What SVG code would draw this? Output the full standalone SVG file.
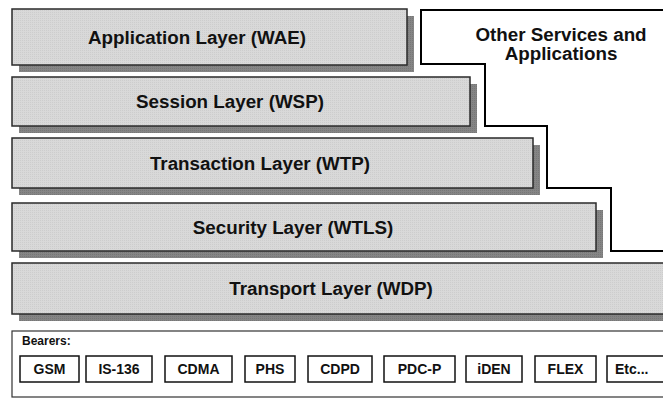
<svg xmlns="http://www.w3.org/2000/svg" width="663" height="399" viewBox="0 0 663 399">
<defs>
<pattern id="dots" width="2" height="2" patternUnits="userSpaceOnUse">
<rect width="2" height="2" fill="#d9d9d9"/>
<rect width="1" height="1" fill="#cdcdcd"/>
</pattern>
<pattern id="sdots" width="2" height="2" patternUnits="userSpaceOnUse">
<rect width="2" height="2" fill="#858585"/>
<rect width="1" height="1" fill="#777"/>
</pattern>
</defs>
<style>
.shadow{fill:url(#sdots);}
.layer{fill:url(#dots);stroke:#2a2a2a;stroke-width:1.5;}
.lt{font-family:"Liberation Sans",Arial,sans-serif;font-weight:bold;font-size:18.8px;fill:#111;text-anchor:middle;}
.bt{font-family:"Liberation Sans",Arial,sans-serif;font-weight:bold;font-size:14px;fill:#111;text-anchor:middle;}
.bbox{fill:#fff;stroke:#111;stroke-width:1.5;}
</style>
<rect width="663" height="399" fill="#fff"/>
<g id="other">
<path d="M663,10 H421 V64 H485 V126 H547 V188 H611 V251 H663" fill="none" stroke="#000" stroke-width="2"/>
<text class="lt" x="561" y="41">Other Services and</text>
<text class="lt" x="561" y="60">Applications</text>
</g>
<g id="app">
<rect class="shadow" x="19" y="16" width="395" height="56"/>
<rect class="layer" x="12" y="9" width="395" height="56"/>
<text class="lt" x="197" y="44">Application Layer (WAE)</text>
</g>
<g id="session">
<rect class="shadow" x="19" y="84" width="458" height="49"/>
<rect class="layer" x="12" y="77" width="458" height="49"/>
<text class="lt" x="230" y="108">Session Layer (WSP)</text>
</g>
<g id="transaction">
<rect class="shadow" x="19" y="145" width="521" height="50"/>
<rect class="layer" x="12" y="138" width="521" height="50"/>
<text class="lt" x="260" y="170">Transaction Layer (WTP)</text>
</g>
<g id="security">
<rect class="shadow" x="19" y="210" width="584" height="48"/>
<rect class="layer" x="12" y="203" width="584" height="48"/>
<text class="lt" x="293" y="234">Security Layer (WTLS)</text>
</g>
<g id="transport">
<rect class="shadow" x="19" y="270" width="660" height="51"/>
<rect class="layer" x="12" y="263" width="670" height="51"/>
<text class="lt" x="331" y="295">Transport Layer (WDP)</text>
</g>
<g id="bearers">
<rect x="12" y="331" width="670" height="66" fill="#fff" stroke="#333" stroke-width="1.2"/>
<text x="22" y="345" font-family="Liberation Sans,Arial,sans-serif" font-weight="bold" font-size="12px" fill="#111">Bearers:</text>
<g id="gsm"><rect class="bbox" x="20" y="356" width="59" height="26"/><text class="bt" x="49.5" y="374">GSM</text></g>
<g id="is136"><rect class="bbox" x="86" y="356" width="66" height="26"/><text class="bt" x="119" y="374">IS-136</text></g>
<g id="cdma"><rect class="bbox" x="165" y="356" width="67" height="26"/><text class="bt" x="198.5" y="374">CDMA</text></g>
<g id="phs"><rect class="bbox" x="245" y="356" width="50" height="26"/><text class="bt" x="270" y="374">PHS</text></g>
<g id="cdpd"><rect class="bbox" x="308" y="356" width="64" height="26"/><text class="bt" x="340" y="374">CDPD</text></g>
<g id="pdcp"><rect class="bbox" x="384" y="356" width="71" height="26"/><text class="bt" x="419.5" y="374">PDC-P</text></g>
<g id="iden"><rect class="bbox" x="466" y="356" width="56" height="26"/><text class="bt" x="494" y="374">iDEN</text></g>
<g id="flex"><rect class="bbox" x="535" y="356" width="61" height="26"/><text class="bt" x="565.5" y="374">FLEX</text></g>
<g id="etc"><rect class="bbox" x="607" y="356" width="70" height="26"/><text class="bt" x="615" y="374" style="text-anchor:start">Etc...</text></g>
</g>
</svg>
